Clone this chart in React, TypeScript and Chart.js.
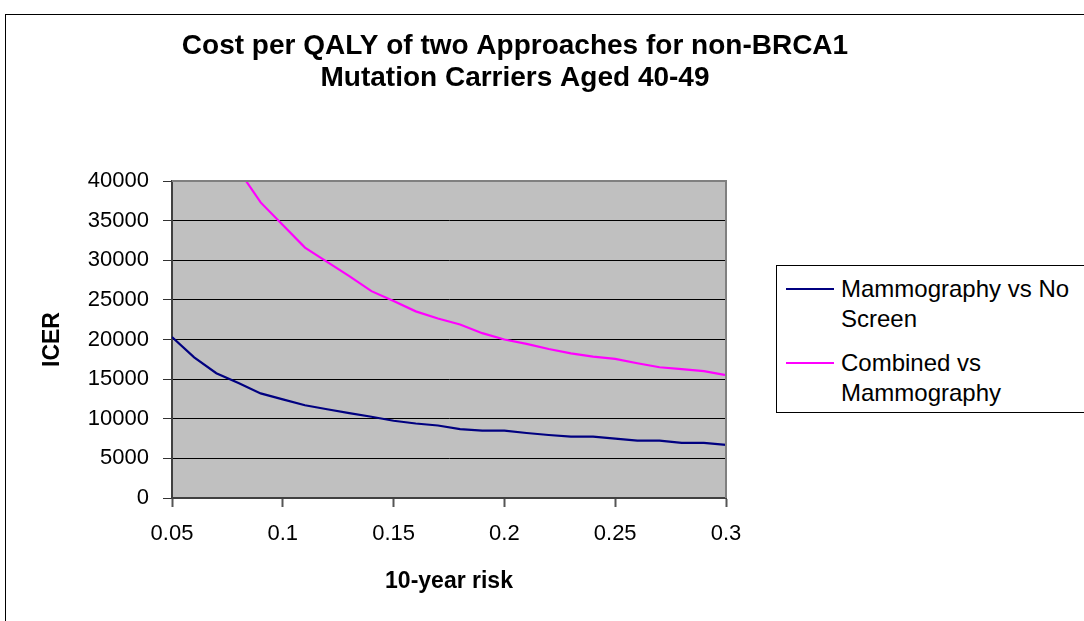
import React, { useEffect, useRef } from "react";
import { Chart, registerables } from "chart.js";

Chart.register(...registerables);

const FONT = "'Liberation Sans', Arial, Helvetica, sans-serif";

const chartTitle = ["Cost per QALY of two Approaches for non-BRCA1", "Mutation Carriers Aged 40-49"];
const xAxisTitle = "10-year risk";
const yAxisTitle = "ICER";

const riskLevels = [
  0.05, 0.06, 0.07, 0.08, 0.09, 0.1, 0.11, 0.12, 0.13, 0.14, 0.15, 0.16, 0.17,
  0.18, 0.19, 0.2, 0.21, 0.22, 0.23, 0.24, 0.25, 0.26, 0.27, 0.28, 0.29, 0.3,
];

const mammographyVsNoScreen = [
  20300, 17750, 15750, 14500, 13200, 12450, 11700, 11200, 10700, 10250, 9750, 9400, 9150,
  8700, 8500, 8500, 8200, 7950, 7750, 7750, 7500, 7250, 7250, 6950, 6950, 6700,
];

// first three points lie above the visible range (not readable), 0.08 is just above 40000
const combinedVsMammography = [
  null, null, null, 41400, 37300, 34450, 31600, 29800, 28000, 26100, 24850, 23550, 22650,
  21900, 20800, 20000, 19450, 18800, 18250, 17850, 17550, 17000, 16500, 16250, 16000, 15500,
];

const xTickValues = [0.05, 0.1, 0.15, 0.2, 0.25, 0.3];
const yTickValues = [0, 5000, 10000, 15000, 20000, 25000, 30000, 35000, 40000];

const seriesNames = ["Mammography vs No Screen", "Combined vs Mammography"];
const legendLines = [
  ["Mammography vs No", "Screen"],
  ["Combined vs", "Mammography"],
];
const seriesColors = ["#000080", "#FF00FF"];

const plotFrame = {
  id: "plotFrame",
  beforeDraw(chart: any) {
    const { ctx, chartArea: a } = chart;
    ctx.save();
    ctx.fillStyle = "#C0C0C0";
    ctx.fillRect(a.left, a.top, a.right - a.left, a.bottom - a.top);
    ctx.restore();
  },
  afterDatasetsDraw(chart: any) {
    const { ctx, chartArea: a } = chart;
    ctx.save();
    ctx.strokeStyle = "#808080";
    ctx.lineWidth = 2;
    ctx.beginPath();
    ctx.moveTo(a.left, a.top);
    ctx.lineTo(a.right, a.top);
    ctx.lineTo(a.right, a.bottom);
    ctx.stroke();
    ctx.restore();
  },
};

function ChartCanvas() {
  const ref = useRef<HTMLCanvasElement | null>(null);
  useEffect(() => {
    if (!ref.current) return;
    const series = [mammographyVsNoScreen, combinedVsMammography];
    const chart = new Chart(ref.current, {
      type: "line",
      data: {
        datasets: series.map((vals, i) => ({
          label: seriesNames[i],
          data: riskLevels.map((x, j) => ({ x, y: vals[j] })),
          borderColor: seriesColors[i],
          backgroundColor: seriesColors[i],
          borderWidth: 2.2,
          pointRadius: 0,
          tension: 0,
          fill: false,
          spanGaps: false,
          yAxisID: "y",
        })),
      },
      options: {
        animation: false,
        responsive: false,
        devicePixelRatio: 1,
        layout: { padding: 0 },
        plugins: {
          legend: { display: false },
          tooltip: { enabled: false },
          title: {
            display: true,
            text: chartTitle,
            color: "#000",
            font: { family: FONT, size: 28, weight: "bold", lineHeight: 32 / 28 },
            padding: { top: 30, bottom: 87 },
          },
        },
        scales: {
          x: {
            type: "linear",
            min: 0.05,
            max: 0.3,
            afterBuildTicks: (scale: any) => {
              scale.ticks = xTickValues.map((v) => ({ value: v }));
            },
            afterFit: (scale: any) => {
              scale.height = 123;
            },
            ticks: {
              color: "#000",
              padding: 14,
              maxRotation: 0,
              autoSkip: false,
              font: { family: FONT, size: 22 },
              callback: (v: any) => String(Number(Number(v).toFixed(2))),
            },
            grid: {
              drawOnChartArea: false,
              drawTicks: true,
              tickLength: 9,
              tickColor: "#555",
              tickWidth: 2,
            },
            border: { display: true, color: "#404040", width: 2 },
            title: {
              display: true,
              text: xAxisTitle,
              color: "#000",
              font: { family: FONT, size: 23, weight: "bold" },
              padding: { top: 0, bottom: 26 },
            },
          },
          y: {
            type: "linear",
            position: "left",
            min: 0,
            max: 40000,
            afterBuildTicks: (scale: any) => {
              scale.ticks = yTickValues.map((v) => ({ value: v }));
            },
            afterFit: (scale: any) => {
              scale.width = 172;
            },
            ticks: {
              color: "#000",
              padding: 14,
              font: { family: FONT, size: 22 },
              callback: (v: any) => String(v),
            },
            grid: {
              color: "#000",
              lineWidth: 1,
              drawTicks: true,
              tickLength: 9,
              tickColor: "#333",
              tickWidth: 1,
            },
            border: { display: true, color: "#404040", width: 2 },
            title: {
              display: true,
              text: yAxisTitle,
              color: "#000",
              font: { family: FONT, size: 23, weight: "bold" },
              padding: { top: 39, bottom: 0 },
            },
          },
          // empty right-hand box reserving the space where the legend sits
          legendSpace: {
            type: "linear",
            position: "right",
            display: true,
            min: 0,
            max: 40000,
            afterFit: (scale: any) => {
              scale.width = 304;
            },
            ticks: { display: false },
            grid: { display: false, drawTicks: false },
            border: { display: false },
            title: { display: false },
          },
        },
      },
      plugins: [plotFrame],
    } as any);
    return () => chart.destroy();
  }, []);
  return (
    <canvas
      ref={ref}
      width={1030}
      height={621}
      style={{ position: "absolute", left: 0, top: 0, width: 1030, height: 621 }}
    />
  );
}

function Legend() {
  return (
    <div
      style={{
        position: "absolute",
        left: 776,
        top: 265,
        width: 400,
        height: 146,
        border: "1px solid #000",
        background: "#fff",
        fontFamily: FONT,
        fontSize: 24,
        color: "#000",
      }}
    >
      {legendLines.map((lines, i) => {
        const centerY = i === 0 ? 23 : 97;
        return (
          <div key={i}>
            <div
              style={{
                position: "absolute",
                left: 9,
                top: centerY - 1,
                width: 48,
                height: 2,
                background: seriesColors[i],
              }}
            />
            <div
              style={{
                position: "absolute",
                left: 64,
                top: centerY - 15,
                lineHeight: "30px",
                whiteSpace: "pre",
              }}
            >
              {lines.map((t, k) => (
                <div key={k}>{t}</div>
              ))}
            </div>
          </div>
        );
      })}
    </div>
  );
}

export default function App() {
  return (
    <div
      style={{
        position: "fixed",
        left: 0,
        top: 0,
        width: 1084,
        height: 621,
        overflow: "hidden",
        background: "#fff",
      }}
    >
      <div
        style={{
          position: "absolute",
          left: 5,
          top: 14,
          width: 1200,
          height: 800,
          border: "1px solid #000",
        }}
      />
      <ChartCanvas />
      <Legend />
    </div>
  );
}
